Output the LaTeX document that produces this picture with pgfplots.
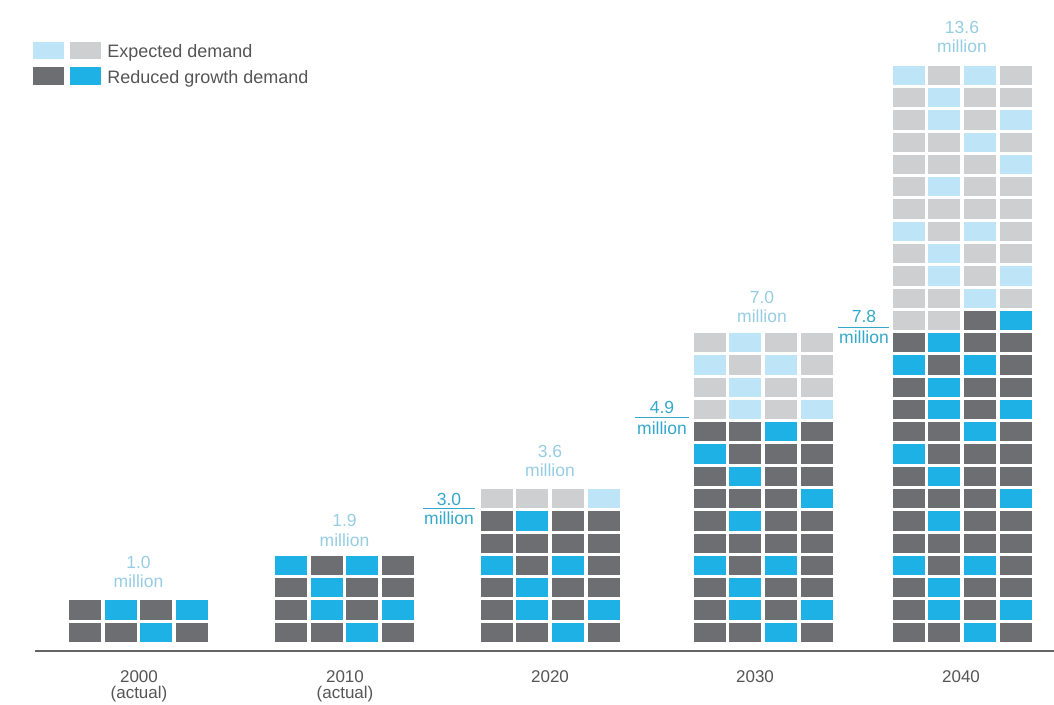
\documentclass[border=0pt]{standalone}
\usepackage{fontspec}
\setmainfont{Liberation Sans}
\usepackage{pgfplots}
\usepackage{pgfplotstable}
\pgfplotsset{compat=1.18}
\definecolor{dgray}{RGB}{109,110,113}
\definecolor{cblue}{RGB}{29,177,230}
\definecolor{lblue}{RGB}{190,228,247}
\definecolor{lgray}{RGB}{206,207,209}
\definecolor{labR}{RGB}{52,168,204}
\definecolor{labE}{RGB}{150,205,226}
\definecolor{txt}{RGB}{85,85,85}
\definecolor{axg}{RGB}{100,100,100}

\pgfdeclareplotmark{blk}{\pgfpathrectangle{\pgfqpoint{-16pt}{-9.65pt}}{\pgfqpoint{32pt}{19.3pt}}\pgfusepath{fill}}

\pgfplotsset{blocks/.style={scatter, only marks, scatter src=explicit symbolic,
  scatter/classes={D={mark=blk,fill=dgray,draw=none},B={mark=blk,fill=cblue,draw=none},
  L={mark=blk,fill=lblue,draw=none},G={mark=blk,fill=lgray,draw=none}}}}

% rows from the bottom; colour of the four blocks in each row
\pgfplotstableread{
r c1 c2 c3 c4
1 D D B D
2 D B D B
}\tA
\pgfplotstableread{
r c1 c2 c3 c4
1 D D B D
2 D B D B
3 D B D D
4 B D B D
}\tB
\pgfplotstableread{
r c1 c2 c3 c4
1 D D B D
2 D B D B
3 D B D D
4 B D B D
5 D D D D
6 D B D D
7 G G G L
}\tC
\pgfplotstableread{
r c1 c2 c3 c4
1 D D B D
2 D B D B
3 D B D D
4 B D B D
5 D D D D
6 D B D D
7 D D D B
8 D B D D
9 B D D D
10 D D B D
11 G L G L
12 G L G G
13 L G L G
14 G L G G
}\tD
\pgfplotstableread{
r c1 c2 c3 c4
1 D D B D
2 D B D B
3 D B D D
4 B D B D
5 D D D D
6 D B D D
7 D D D B
8 D B D D
9 B D D D
10 D D B D
11 D B D B
12 D B D D
13 B D B D
14 D B D D
15 G G D B
16 G G L G
17 G L G L
18 G L G G
19 L G L G
20 G G G G
21 G L G G
22 G G G L
23 G G L G
24 G L G L
25 G L G G
26 L G L G
}\tE

\newcommand{\PY}[1]{0.5+(643.5-#1)/22.28}
\newcommand{\waffle}[2]{%
 \addplot[blocks] table[x expr={#1-53.5}, y=r, meta=c1]{#2};
 \addplot[blocks] table[x expr={#1-17.8}, y=r, meta=c2]{#2};
 \addplot[blocks] table[x expr={#1+17.8}, y=r, meta=c3]{#2};
 \addplot[blocks] table[x expr={#1+53.5}, y=r, meta=c4]{#2};}
\newcommand{\labfont}{\fontsize{17.5}{20}\selectfont}
\newcommand{\twolab}[5]{%
 \node[anchor=base, text=#1, inner sep=0pt, font=\labfont] at (axis cs:#2,{\PY{#3}}) {#4};
 \node[anchor=base, text=#1, inner sep=0pt, font=\labfont] at (axis cs:#2,{\PY{#5}}) {million};}

\begin{document}
\begin{tikzpicture}
\useasboundingbox (-35pt,-53.5pt) rectangle (1019pt,650.5pt);
\begin{axis}[
  scale only axis, width=1019pt, height=650.5pt,
  xmin=35, xmax=1054, ymin=0.186, ymax=29.383,
  axis x line=bottom, axis y line=none,
  x axis line style={-, line width=2pt, color=axg},
  xtick={139,345,550,755,961},
  xticklabels={{2000\\(actual)},{2010\\(actual)},2020,2030,2040},
  xticklabel style={align=center, font=\fontsize{17}{16}\selectfont, text=txt, inner sep=0pt, anchor=north, yshift=-20pt},
  major tick length=0pt, ytick=\empty,
  clip=false,
  legend style={at={(axis description cs:-0.002,0.936)}, anchor=north west, draw=none, fill=none,
    inner sep=0pt, outer sep=0pt, row sep=6pt, font=\fontsize{18}{20}\selectfont, text=txt,
    nodes={inner sep=1pt, text height=0.75em, text depth=0.25em},
    /tikz/every odd column/.append style={column sep=6pt}},
  legend cell align=left,
]
\addlegendimage{legend image code/.code={\fill[lblue] (0pt,-3.25pt) rectangle (30pt,13.25pt); \fill[lgray] (37pt,-3.25pt) rectangle (67pt,13.25pt);}}
\addlegendentry{Expected demand}
\addlegendimage{legend image code/.code={\fill[dgray] (0pt,-3.25pt) rectangle (30pt,13.25pt); \fill[cblue] (37pt,-3.25pt) rectangle (67pt,13.25pt);}}
\addlegendentry{Reduced growth demand}

\waffle{138.5}{\tA}
\waffle{344.5}{\tB}
\waffle{550}{\tC}
\waffle{763}{\tD}
\waffle{962}{\tE}

% labels of expected demand
\twolab{labE}{138.5}{568}{1.0}{587}
\twolab{labE}{344.5}{526}{1.9}{546}
\twolab{labE}{550}{457}{3.6}{476}
\twolab{labE}{762}{303}{7.0}{322}
\twolab{labE}{962}{33}{13.6}{52}
% labels of reduced growth demand
\twolab{labR}{449}{505}{3.0}{524}
\twolab{labR}{662}{413}{4.9}{434}
\twolab{labR}{864}{322}{7.8}{343}
\draw[labR, line width=1.3pt] (axis cs:423,{\PY{508.5}}) -- (axis cs:475,{\PY{508.5}});
\draw[labR, line width=1.3pt] (axis cs:635,{\PY{417.5}}) -- (axis cs:689,{\PY{417.5}});
\draw[labR, line width=1.3pt] (axis cs:838,{\PY{327.5}}) -- (axis cs:889,{\PY{327.5}});
\end{axis}
\end{tikzpicture}
\end{document}
